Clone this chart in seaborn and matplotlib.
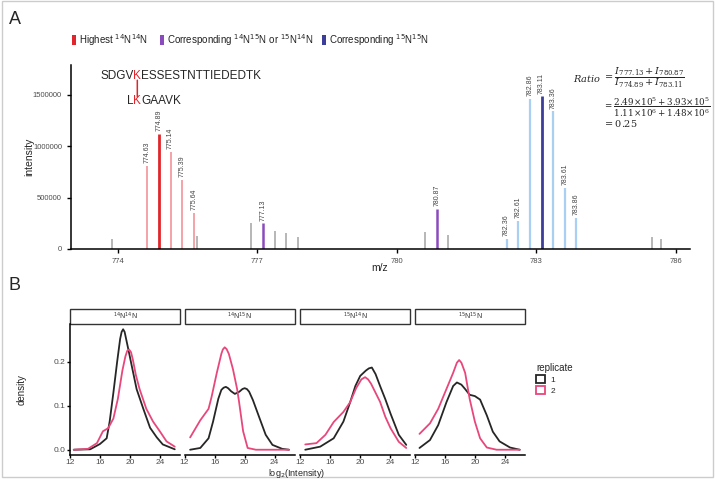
import matplotlib
matplotlib.use('Agg')

import pandas as pd
import matplotlib.pyplot as plt
import seaborn as sns
from matplotlib.patches import Rectangle, Patch


# ── Panel A data: peaks of the spectrum (m/z, intensity) ─────────────────────
MZ_GRAY   = [773.88, 775.70, 776.87, 777.38, 777.63, 777.88, 780.61, 781.10, 785.49, 785.67]
INT_GRAY  = [97000, 127000, 250000, 179000, 153000, 120000, 169000, 140000, 117000, 97000]

MZ_RED_LIGHT  = [774.63, 775.14, 775.39, 775.64]
INT_RED_LIGHT = [812000, 942000, 672000, 348000]
MZ_RED        = [774.89]
INT_RED       = [1118000]

MZ_PURPLE  = [777.13, 780.87]
INT_PURPLE = [249000, 393000]

MZ_BLUE_LIGHT  = [782.36, 782.61, 782.86, 783.36, 783.61, 783.86]
INT_BLUE_LIGHT = [100000, 270000, 1459000, 1338000, 598000, 302000]
MZ_BLUE        = [783.11]
INT_BLUE       = [1484000]

MZ_TICKS  = [774, 777, 780, 783, 786]
INT_TICKS = [0, 500000, 1000000, 1500000]

# ── Panel B data: density curves ─────────────────────────────────────────────
FACETS = [r'$^{14}$N$^{14}$N', r'$^{14}$N$^{15}$N', r'$^{15}$N$^{14}$N', r'$^{15}$N$^{15}$N']

X_1414_R1 = [12.5, 14.7, 16.0, 16.9, 17.3, 17.8, 18.3, 18.7, 18.9, 19.1, 19.3, 19.5, 19.8, 20.2, 20.9,
             21.8, 22.7, 23.6, 24.4, 26.0]
Y_1414_R1 = [0.0, 0.001, 0.013, 0.026, 0.064, 0.13, 0.2, 0.252, 0.268, 0.274, 0.268, 0.252, 0.228, 0.195,
             0.138, 0.093, 0.05, 0.028, 0.012, 0.001]
X_1414_R2 = [12.5, 14.4, 15.6, 16.4, 17.1, 17.8, 18.4, 19.0, 19.4, 19.65, 19.9, 20.15, 20.4, 20.8, 21.3,
             22.2, 23.1, 24.0, 24.9, 26.0]
Y_1414_R2 = [0.0, 0.002, 0.015, 0.042, 0.049, 0.071, 0.116, 0.18, 0.212, 0.225, 0.228, 0.222, 0.205,
             0.17, 0.138, 0.093, 0.064, 0.042, 0.019, 0.007]

X_1415_R1 = [12.75, 14.1, 15.2, 15.8, 16.5, 16.9, 17.2, 17.5, 17.8, 18.2, 18.7, 19.3, 19.7, 20.0, 20.3,
             20.6, 21.1, 22.0, 22.8, 23.7, 25.0, 25.9]
Y_1415_R1 = [0.0, 0.004, 0.026, 0.064, 0.116, 0.136, 0.141, 0.143, 0.14, 0.133, 0.127, 0.132, 0.138,
             0.14, 0.138, 0.132, 0.113, 0.071, 0.034, 0.011, 0.002, 0.0]
X_1415_R2 = [12.75, 14.1, 15.2, 15.6, 16.3, 16.9, 17.1, 17.35, 17.6, 17.9, 18.45, 19.0, 19.25, 19.8,
             20.4, 21.5, 25.9]
Y_1415_R2 = [0.028, 0.067, 0.093, 0.12, 0.175, 0.218, 0.228, 0.233, 0.229, 0.218, 0.183, 0.138, 0.11,
             0.042, 0.004, 0.0, 0.0]

X_1514_R1 = [12.7, 14.7, 16.5, 17.8, 18.7, 19.4, 20.05, 20.8, 21.2, 21.6, 22.1, 22.7, 23.4, 24.1, 25.2,
             26.2]
Y_1514_R1 = [0.0, 0.007, 0.026, 0.064, 0.108, 0.145, 0.168, 0.18, 0.185, 0.187, 0.172, 0.145, 0.115,
             0.082, 0.034, 0.011]
X_1514_R2 = [12.7, 14.2, 15.4, 16.5, 17.8, 18.7, 19.5, 20.2, 20.7, 21.1, 21.5, 22.7, 23.4, 24.1, 25.2,
             26.2]
Y_1514_R2 = [0.012, 0.015, 0.034, 0.063, 0.086, 0.108, 0.14, 0.16, 0.165, 0.16, 0.15, 0.109, 0.075,
             0.049, 0.018, 0.004]

X_1515_R1 = [12.6, 14.0, 15.1, 16.2, 17.1, 17.6, 18.2, 18.7, 19.3, 20.0, 20.7, 21.6, 22.4, 23.3, 24.7,
             26.0]
Y_1515_R1 = [0.004, 0.022, 0.056, 0.108, 0.145, 0.153, 0.148, 0.138, 0.125, 0.122, 0.114, 0.078, 0.041,
             0.019, 0.005, 0.0]
X_1515_R2 = [12.6, 14.0, 15.1, 16.2, 17.1, 17.6, 17.9, 18.2, 18.7, 19.3, 20.0, 20.7, 21.6, 22.9, 26.0]
Y_1515_R2 = [0.036, 0.06, 0.093, 0.138, 0.175, 0.198, 0.204, 0.198, 0.175, 0.116, 0.064, 0.026, 0.005,
             0.0, 0.0]

CURVES = [
    (FACETS[0], '1', X_1414_R1, Y_1414_R1), (FACETS[0], '2', X_1414_R2, Y_1414_R2),
    (FACETS[1], '1', X_1415_R1, Y_1415_R1), (FACETS[1], '2', X_1415_R2, Y_1415_R2),
    (FACETS[2], '1', X_1514_R1, Y_1514_R1), (FACETS[2], '2', X_1514_R2, Y_1514_R2),
    (FACETS[3], '1', X_1515_R1, Y_1515_R1), (FACETS[3], '2', X_1515_R2, Y_1515_R2),
]
B_XTICKS = [12, 16, 20, 24]
B_YTICKS = [0.0, 0.1, 0.2]

# ── Styling ───────────────────────────────────────────────────────────────────
RED, RED_LIGHT = '#e0262c', '#f5a3a8'
PURPLE = '#8a4cbd'
BLUE, BLUE_LIGHT = '#3d3d9a', '#a9cff2'
GRAY = '#a3a3a3'
REP_COLORS = {'1': '#262626', '2': '#e8477b'}
TICK_GRAY = '#4d4d4d'

W, H = 715, 479


def px_rect(left, top, right, bottom):
    """Axes rect in figure fraction from pixel edges (origin top-left)."""
    return [left / W, 1 - bottom / H, (right - left) / W, (bottom - top) / H]


def fx(x):
    return x / W


def fy(y):
    return 1 - y / H


sns.set_theme(style='ticks')
plt.rcParams['font.family'] = ['Liberation Sans', 'DejaVu Sans']
plt.rcParams['axes.edgecolor'] = 'black'

fig = plt.figure(figsize=(7.15, 4.79), dpi=100)

# light frame around the whole figure
fig.add_artist(Rectangle((0.003, 0.004), 0.994, 0.993, transform=fig.transFigure,
                         fill=False, edgecolor='#cccccc', lw=1))

fig.text(fx(9), fy(20), 'A', fontsize=13, va='center')
fig.text(fx(9), fy(285), 'B', fontsize=13, va='center')

# ── Panel A: spectrum ─────────────────────────────────────────────────────────
axA = fig.add_axes(px_rect(71, 65, 690, 249))
axA.vlines(MZ_GRAY, 0, INT_GRAY, color=GRAY, lw=1.1)
axA.vlines(MZ_RED_LIGHT, 0, INT_RED_LIGHT, color=RED_LIGHT, lw=1.4)
axA.vlines(MZ_RED, 0, INT_RED, color=RED, lw=2.0)
axA.vlines(MZ_PURPLE, 0, INT_PURPLE, color=PURPLE, lw=1.8)
axA.vlines(MZ_BLUE_LIGHT, 0, INT_BLUE_LIGHT, color=BLUE_LIGHT, lw=1.6)
axA.vlines(MZ_BLUE, 0, INT_BLUE, color=BLUE, lw=2.0)

for mz_list, int_list in [(MZ_RED_LIGHT, INT_RED_LIGHT), (MZ_RED, INT_RED), (MZ_PURPLE, INT_PURPLE),
                          (MZ_BLUE_LIGHT, INT_BLUE_LIGHT), (MZ_BLUE, INT_BLUE)]:
    for mz, inten in zip(mz_list, int_list):
        axA.annotate(f'{mz:.2f}', xy=(mz, inten), xytext=(0, 2), textcoords='offset points',
                     rotation=90, ha='center', va='bottom', fontsize=5, color='#444444')

axA.set_xlim(773.0, 786.3)
axA.set_ylim(0, 1.79e6)
axA.set_xticks(MZ_TICKS)
axA.set_yticks(INT_TICKS)
axA.set_yticklabels([str(v) for v in INT_TICKS])
axA.tick_params(labelsize=5.5, labelcolor=TICK_GRAY, length=3, width=1, color='black')
sns.despine(ax=axA)
for s in ['left', 'bottom']:
    axA.spines[s].set_linewidth(1.1)
fig.text(fx(380), fy(268), 'm/z', fontsize=7.5, ha='center', va='center')
fig.text(fx(29), fy(157), 'intensity', fontsize=7.5, rotation=90, ha='center', va='center')

# peptide cross-link sketch
pep = dict(fontsize=8.5, va='bottom', annotation_clip=False)
t1 = axA.annotate('SDGV', xy=(fx(100), fy(82)), xycoords='figure fraction', **pep)
k1 = axA.annotate('K', xy=(1, 0), xycoords=t1, color=RED, **pep)
axA.annotate('ESSESTNTTIEDEDTK', xy=(1, 0), xycoords=k1, **pep)
l2 = axA.annotate('L', xy=(0, 0), xycoords=k1, xytext=(0, -18), textcoords='offset points',
                  ha='right', fontsize=8.5, va='bottom', annotation_clip=False)
k2 = axA.annotate('K', xy=(1, 0), xycoords=l2, color=RED, **pep)
axA.annotate('GAAVK', xy=(1, 0), xycoords=k2, **pep)
axA.annotate('', xy=(0.5, 0.85), xycoords=k2, xytext=(0.5, 0.15), textcoords=k1,
             arrowprops=dict(arrowstyle='-', color=RED, lw=1.1, shrinkA=0, shrinkB=0),
             annotation_clip=False)

# ratio formula
mf = dict(va='center', ha='left', math_fontfamily='dejavuserif')
fig.text(fx(601), fy(78), r'$\mathit{Ratio}$', fontsize=7, va='center', ha='right',
         math_fontfamily='dejavuserif')
fig.text(fx(603), fy(78), r'$= \dfrac{I_{777.13} + I_{780.87}}{I_{774.89} + I_{783.11}}$',
         fontsize=7, **mf)
fig.text(fx(603), fy(107),
         r'$= \dfrac{2.49{\times}10^5 + 3.93{\times}10^5}{1.11{\times}10^6 + 1.48{\times}10^6}$',
         fontsize=6.3, **mf)
fig.text(fx(603), fy(124), r'$= 0.25$', fontsize=7, **mf)

# colour key along the top
for x0, color, label in [(72, RED, r'Highest $^{14}$N$^{14}$N'),
                         (160, PURPLE, r'Corresponding $^{14}$N$^{15}$N or $^{15}$N$^{14}$N'),
                         (322, BLUE, r'Corresponding $^{15}$N$^{15}$N')]:
    fig.add_artist(Rectangle((fx(x0), fy(45)), 4 / W, 10 / H, transform=fig.transFigure,
                             color=color, lw=0))
    fig.text(fx(x0 + 7), fy(40), label, fontsize=7, va='center', color='#222222')

# ── Panel B: density facets ───────────────────────────────────────────────────
rows = []
for facet, rep, xs, ys in CURVES:
    for x, y in zip(xs, ys):
        rows.append({'facet': facet, 'replicate': rep, 'log2_intensity': x, 'density': y})
df = pd.DataFrame(rows)

panel_edges = [(70, 180), (184.5, 295), (300, 410), (415, 525)]
for i, (facet, (left, right)) in enumerate(zip(FACETS, panel_edges)):
    ax = fig.add_axes(px_rect(left, 324, right, 455))
    sub = df[df['facet'] == facet]
    sns.lineplot(data=sub, x='log2_intensity', y='density', hue='replicate', palette=REP_COLORS,
                 estimator=None, sort=False, legend=False, lw=1.3, ax=ax)
    ax.set_xlim(12, 26.7)
    ax.set_ylim(-0.012, 0.286)
    ax.set_xticks(B_XTICKS)
    ax.set_yticks(B_YTICKS)
    ax.set_yticklabels([f'{v:.1f}' for v in B_YTICKS])
    ax.set_xlabel('')
    ax.set_ylabel('')
    ax.tick_params(labelsize=6, labelcolor=TICK_GRAY, length=2, width=1, color='black', pad=1)
    sns.despine(ax=ax)
    ax.spines['bottom'].set_linewidth(1.1)
    if i == 0:
        ax.spines['left'].set_linewidth(1.1)
    else:
        ax.spines['left'].set_visible(False)
        ax.tick_params(axis='y', left=False, labelleft=False)
    # facet strip
    ax.add_patch(Rectangle((0, 1.0), 1, 0.115, transform=ax.transAxes, clip_on=False,
                           facecolor='white', edgecolor='#333333', lw=1))
    ax.text(0.5, 1.057, facet, transform=ax.transAxes, ha='center', va='center',
            fontsize=5, color='#333333')

fig.text(fx(22), fy(390), 'density', fontsize=7, rotation=90, ha='center', va='center')
fig.text(fx(297), fy(476), r'log$_2$(Intensity)', fontsize=6.5, ha='center', va='baseline')

handles = [Patch(facecolor='white', edgecolor=REP_COLORS[r], lw=1.3) for r in ['1', '2']]
fig.legend(handles, ['1', '2'], title='replicate', loc='upper left',
           bbox_to_anchor=(fx(536), fy(363)), frameon=False, fontsize=6, title_fontsize=7,
           handlelength=1.1, handleheight=1.1, handletextpad=0.6, labelspacing=0.25,
           alignment='left', borderaxespad=0, borderpad=0)

fig.savefig('out.png', dpi=100)
